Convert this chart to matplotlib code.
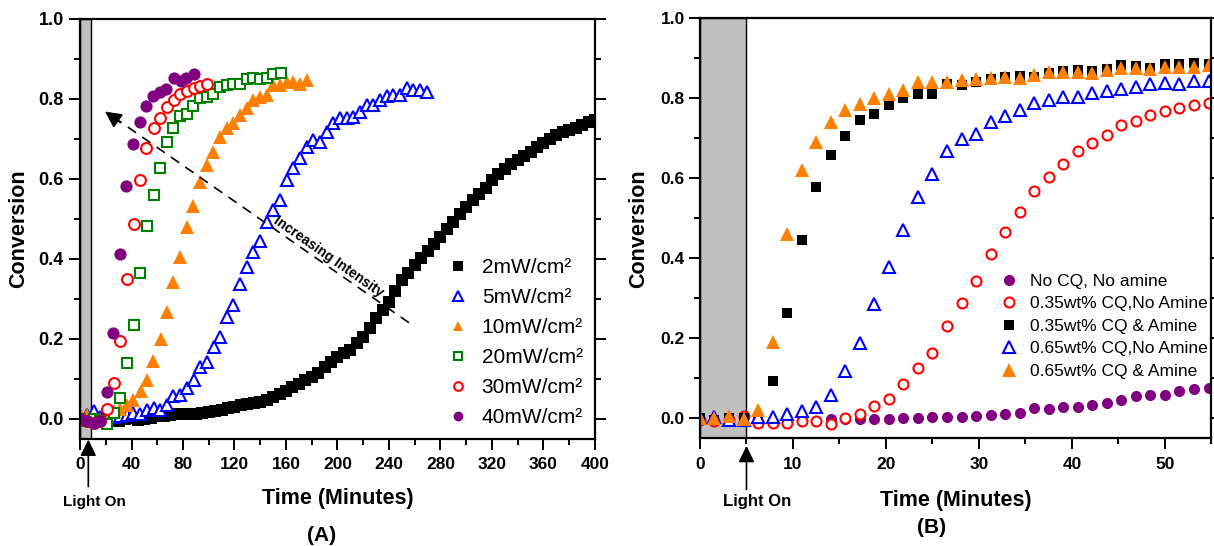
import numpy as np
import matplotlib as mat
mat.use('Agg')
import matplotlib.pyplot as plt
from matplotlib.ticker import MultipleLocator

plt.rcParams['font.family'] = ['Liberation Sans', 'DejaVu Sans']

# ---- panel A: conversion vs time at different light intensities ----
labels_a = ['2mW/cm²', '5mW/cm²', '10mW/cm²', '20mW/cm²', '30mW/cm²', '40mW/cm²']

t_2mw = [0, 5, 10, 15, 20, 25, 30, 35, 40, 45, 50, 55, 60, 65, 70, 75, 80, 85, 90, 95,
         100, 105, 110, 115, 120, 125, 130, 135, 140, 145, 150, 155, 160, 165, 170, 175,
         180, 185, 190, 195, 200, 205, 210, 215, 220, 225, 230, 235, 240, 245, 250, 255,
         260, 265, 270, 275, 280, 285, 290, 295, 300, 305, 310, 315, 320, 325, 330, 335,
         340, 345, 350, 355, 360, 365, 370, 375, 380, 385, 390, 395, 400]
c_2mw = [0.0, 0.0, -0.005, -0.005, 0.0, -0.005, -0.005, 0.0, 0.002, -0.002, 0.0, 0.003,
         0.006, 0.008, 0.01, 0.012, 0.013, 0.012, 0.013, 0.014, 0.017, 0.02, 0.022, 0.026,
         0.03, 0.034, 0.037, 0.04, 0.043, 0.048, 0.055, 0.062, 0.07, 0.079, 0.087, 0.096,
         0.104, 0.115, 0.13, 0.143, 0.155, 0.164, 0.173, 0.19, 0.205, 0.228, 0.253, 0.272,
         0.293, 0.32, 0.347, 0.365, 0.384, 0.403, 0.42, 0.436, 0.455, 0.474, 0.4925, 0.512,
         0.53, 0.546, 0.562, 0.578, 0.598, 0.612, 0.625, 0.636, 0.646, 0.657, 0.668, 0.679,
         0.689, 0.7, 0.709, 0.717, 0.723, 0.728, 0.734, 0.741, 0.748]

t_5mw = [0.2, 5.4, 10.6, 15.8, 21.0, 26.2, 31.0, 36.2, 41.4, 46.6, 51.8, 57.5, 62.1, 67.3,
         72.0, 77.7, 83.4, 88.5, 93.2, 98.4, 104.3, 108.7, 113.9, 119.1, 124.3, 129.5,
         134.7, 139.9, 145.0, 150.2, 155.4, 160.6, 165.7, 170.9, 176.1, 181.3, 186.5, 191.6,
         196.8, 202.0, 207.2, 212.4, 217.5, 222.7, 227.9, 233.1, 238.3, 243.4, 248.6, 253.8,
         259.0, 264.2, 269.4]
c_5mw = [0.0, 0.01, 0.02, 0.005, 0.0, 0.005, 0.008, 0.01, 0.015, 0.012, 0.022, 0.0275,
         0.022, 0.034, 0.057, 0.059, 0.076, 0.097, 0.1285, 0.1425, 0.1785, 0.205, 0.255,
         0.284, 0.338, 0.38, 0.4175, 0.444, 0.4925, 0.522, 0.547, 0.597, 0.626, 0.651,
         0.6785, 0.697, 0.693, 0.7175, 0.7385, 0.751, 0.751, 0.755, 0.7675, 0.784, 0.784,
         0.797, 0.807, 0.809, 0.809, 0.826, 0.822, 0.822, 0.818]

t_10mw = [0.2, 5.4, 10.6, 15.8, 21.0, 26.2, 31.3, 36.5, 41.4, 47.1, 51.8, 57.0, 62.7, 67.3,
          72.0, 77.7, 83.4, 88.0, 93.2, 98.9, 103.6, 108.8, 114.4, 119.1, 124.3, 129.5,
          134.7, 139.9, 145.0, 150.2, 155.4, 160.6, 165.8, 170.9, 176.6]
c_10mw = [0.015, 0.01, 0.0, -0.005, 0.01, 0.02, 0.025, 0.034, 0.047, 0.069, 0.097, 0.144,
          0.1985, 0.2675, 0.3425, 0.405, 0.48, 0.532, 0.593, 0.634, 0.668, 0.705, 0.726,
          0.74, 0.759, 0.778, 0.797, 0.805, 0.809, 0.834, 0.834, 0.842, 0.842, 0.837, 0.847]

t_20mw = [0.3, 5.5, 10.7, 15.9, 21.0, 26.2, 30.8, 36.5, 41.7, 46.4, 51.8, 57.5, 62.1, 67.8,
          72.5, 77.7, 82.9, 88.0, 93.2, 98.4, 103.6, 108.8, 114.0, 119.1, 124.3, 129.5,
          134.7, 139.9, 145.0, 150.2, 156.2]
c_20mw = [0.0, -0.005, 0.0, -0.005, -0.012, 0.015, 0.053, 0.139, 0.234, 0.364, 0.482, 0.559,
          0.628, 0.693, 0.728, 0.757, 0.761, 0.782, 0.801, 0.804, 0.813, 0.830, 0.834, 0.838,
          0.837, 0.849, 0.853, 0.849, 0.853, 0.862, 0.865]

t_30mw = [0.3, 5.5, 10.7, 15.9, 21.0, 26.2, 30.8, 36.5, 41.7, 46.3, 51.5, 57.2, 62.4, 67.6,
          72.8, 77.9, 83.1, 88.3, 93.5, 98.7]
c_30mw = [0.0, -0.005, -0.01, -0.005, 0.024, 0.0885, 0.194, 0.349, 0.488, 0.598, 0.678,
          0.728, 0.753, 0.780, 0.797, 0.811, 0.820, 0.826, 0.832, 0.837]

t_40mw = [0.3, 5.5, 10.7, 15.9, 21.0, 25.6, 30.8, 36.0, 41.2, 46.8, 51.5, 57.0, 62.1, 67.1,
          73.0, 78.2, 82.6, 88.5]
c_40mw = [0.0, -0.005, -0.01, -0.005, 0.068, 0.215, 0.413, 0.583, 0.688, 0.743, 0.782,
          0.807, 0.816, 0.824, 0.851, 0.845, 0.853, 0.863]

# ---- panel B: effect of CQ / amine at fixed intensity ----
labels_b = ['No CQ, No amine', '0.35wt% CQ,No Amine', '0.35wt% CQ & Amine',
            '0.65wt% CQ,No Amine', '0.65wt% CQ & Amine']

t_b = [0, 1.56, 3.13, 4.69, 6.25, 7.81, 9.38, 10.94, 12.5, 14.06, 15.63, 17.19, 18.75,
       20.31, 21.88, 23.44, 25.0, 26.56, 28.13, 29.69, 31.25, 32.81, 34.38, 35.94, 37.5,
       39.06, 40.63, 42.19, 43.75, 45.31, 46.88, 48.44, 50.0, 51.56, 53.13, 54.69]

t_nocq = t_b[9:]
c_nocq = [-0.003, -0.003, -0.003, -0.002, -0.002, 0.0, 0.0, 0.004, 0.004, 0.004, 0.006,
          0.008, 0.01, 0.014, 0.025, 0.023, 0.027, 0.029, 0.033, 0.0375, 0.046, 0.056,
          0.058, 0.057, 0.067, 0.073, 0.075]
c_035_noam = [-0.004, -0.006, -0.004, 0.006, -0.011, -0.011, -0.011, -0.008, -0.008, -0.015,
              0.0, 0.011, 0.031, 0.048, 0.086, 0.125, 0.163, 0.23, 0.2875, 0.344, 0.411,
              0.465, 0.515, 0.568, 0.603, 0.636, 0.667, 0.6875, 0.708, 0.733, 0.742, 0.758,
              0.769, 0.775, 0.782, 0.7875]
c_035_am = [0.0, -0.004, 0.0, 0.0, 0.0, 0.092, 0.264, 0.446, 0.577, 0.658, 0.706, 0.746,
            0.761, 0.783, 0.80, 0.81, 0.81, 0.835, 0.833, 0.84, 0.848, 0.852, 0.856, 0.854,
            0.864, 0.867, 0.871, 0.867, 0.872, 0.883, 0.881, 0.875, 0.886, 0.886, 0.889, 0.886]
c_065_noam = [0.0, 0.004, -0.004, -0.004, 0.003, 0.004, 0.011, 0.017, 0.027, 0.058, 0.117,
              0.189, 0.285, 0.379, 0.471, 0.554, 0.61, 0.668, 0.698, 0.71, 0.74, 0.756,
              0.771, 0.788, 0.796, 0.803, 0.804, 0.813, 0.818, 0.823, 0.827, 0.835, 0.839,
              0.835, 0.844, 0.842]
c_065_am = [0.0, 0.0, 0.005, -0.003, 0.02, 0.19, 0.46, 0.62, 0.69, 0.74, 0.77, 0.785, 0.80,
            0.81, 0.82, 0.84, 0.84, 0.84, 0.846, 0.848, 0.85, 0.854, 0.85, 0.858, 0.865,
            0.865, 0.865, 0.863, 0.87, 0.875, 0.875, 0.873, 0.879, 0.878, 0.879, 0.883]

ORANGE = '#ff8000'
BLUE = '#0000ff'
RED = '#ff0000'
GREEN = '#008000'
PURPLE = '#800080'


def style_axes(ax, xticks, xminor, ylabsize, xpad, ypad):
    ax.set_ylim(-0.05, 1.0)
    for s in ax.spines.values():
        s.set_linewidth(1.6)
    ax.set_xticks(xticks)
    ax.set_xticklabels([str(v) for v in xticks], fontweight='bold', fontsize=12.5)
    yt = [0.0, 0.2, 0.4, 0.6, 0.8, 1.0]
    ax.set_yticks(yt)
    ax.set_yticklabels(['%.1f' % v for v in yt], fontweight='bold', fontsize=ylabsize)
    ax.xaxis.set_minor_locator(MultipleLocator(xminor))
    ax.yaxis.set_minor_locator(MultipleLocator(0.1))
    ax.tick_params(which='both', direction='out', width=1.4, top=False, right=True,
                   labelright=False)
    ax.tick_params(which='major', length=8)
    ax.tick_params(which='minor', length=4.5)
    ax.tick_params(axis='x', which='both', pad=xpad)
    ax.tick_params(axis='y', which='both', pad=ypad)


def light_on(ax, x, tip, tail, tx, ty, size):
    tr = ax.get_xaxis_transform()
    ax.annotate('', xy=(x, tip), xytext=(x, tail), xycoords=tr, textcoords=tr,
                arrowprops=dict(arrowstyle='-|>,head_length=0.45,head_width=0.22',
                                color='k', lw=1.2, mutation_scale=22,
                                shrinkA=0, shrinkB=0),
                annotation_clip=False)
    ax.text(tx, ty, 'Light On', transform=tr, ha='center', va='center',
            fontsize=size, fontweight='bold')


fig = plt.figure(figsize=(12.14, 5.46), dpi=100)

# ---------------- (A) ----------------
ax1 = fig.add_axes([0.0659, 0.1965, 0.4242, 0.7692])
ax1.set_xlim(0, 400)
ax1.axvspan(0, 8.2, facecolor='#c0c0c0', edgecolor='k', lw=1.0, zorder=0)

ax1.plot(t_2mw, c_2mw, 's', color='k', ms=8.5, mew=0, label=labels_a[0])
ax1.plot(t_5mw, c_5mw, '^', mfc='white', mec=BLUE, mew=1.5, ms=9, label=labels_a[1])
ax1.plot(t_10mw, c_10mw, '^', color=ORANGE, ms=9.5, mew=0, label=labels_a[2])
ax1.plot(t_20mw, c_20mw, 's', mfc='white', mec=GREEN, mew=1.5, ms=6.8, label=labels_a[3])
ax1.plot(t_30mw, c_30mw, 'o', mfc='white', mec=RED, mew=1.5, ms=7.8, label=labels_a[4])
ax1.plot(t_40mw, c_40mw, 'o', color=PURPLE, ms=8.8, mew=0, label=labels_a[5])

# dashed "increasing intensity" arrow
ax1.plot([255.5, 27.0], [0.24, 0.752], '--', color='k', lw=1.2, dashes=(6, 4.5))
ax1.annotate('', xy=(19.4, 0.768), xytext=(31.2, 0.741),
             arrowprops=dict(arrowstyle='-|>,head_length=0.5,head_width=0.25',
                             color='k', lw=1.2, mutation_scale=20,
                             shrinkA=0, shrinkB=0))
ax1.text(193, 0.405, 'Increasing Intensity', rotation=-35, rotation_mode='anchor',
         ha='center', va='center', fontsize=10, fontweight='bold')

style_axes(ax1, list(range(0, 401, 40)), 20, 13, 5.0, 3.6)
ax1.set_ylabel('Conversion', fontsize=15.5, fontweight='bold')
ax1.yaxis.set_label_coords(-0.099, 0.5)
ax1.set_xlabel('Time (Minutes)', fontsize=15.5, fontweight='bold')
ax1.xaxis.set_label_coords(0.501, -0.118)

light_on(ax1, 6.45, -0.002, -0.114, 10.9, -0.15, 11)

ax1.legend(loc='upper left', bbox_to_anchor=(0.369, 0.527), bbox_transform=fig.transFigure,
           frameon=False, fontsize=15, handlelength=1.0, handletextpad=0.62,
           labelspacing=0.53, borderpad=0, borderaxespad=0, markerscale=0.8)

# ---------------- (B) ----------------
ax2 = fig.add_axes([0.5766, 0.1973, 0.4213, 0.7692])
ax2.set_xlim(0, 55)
ax2.axvspan(0, 5, facecolor='#c0c0c0', edgecolor='k', lw=1.0, zorder=0)

ax2.plot(t_nocq, c_nocq, 'o', color=PURPLE, ms=8, mew=0, label=labels_b[0])
ax2.plot(t_b, c_035_noam, 'o', mfc='white', mec=RED, mew=1.5, ms=7.2, label=labels_b[1])
ax2.plot(t_b, c_035_am, 's', color='k', ms=7.5, mew=0, label=labels_b[2])
ax2.plot(t_b, c_065_noam, '^', mfc='white', mec=BLUE, mew=1.5, ms=9, label=labels_b[3])
ax2.plot(t_b, c_065_am, '^', color=ORANGE, ms=10, mew=0, label=labels_b[4])

style_axes(ax2, [0, 10, 20, 30, 40, 50], 5, 12.5, 5.5, 3.0)
ax2.set_ylabel('Conversion', fontsize=15.5, fontweight='bold')
ax2.yaxis.set_label_coords(-0.099, 0.5)
ax2.set_xlabel('Time (Minutes)', fontsize=15.5, fontweight='bold')
ax2.xaxis.set_label_coords(0.5, -0.123)

light_on(ax2, 5, -0.018, -0.122, 6.1, -0.151, 12)

ax2.legend(loc='upper left', bbox_to_anchor=(0.824, 0.4985), bbox_transform=fig.transFigure,
           frameon=False, fontsize=12.5, handlelength=1.0, handletextpad=0.7,
           labelspacing=0.42, borderpad=0, borderaxespad=0)

fig.text(0.2652, 0.020, '(A)', ha='center', va='center', fontsize=15, fontweight='bold')
fig.text(0.7677, 0.033, '(B)', ha='center', va='center', fontsize=15, fontweight='bold')

fig.savefig('out.png', dpi=100)
